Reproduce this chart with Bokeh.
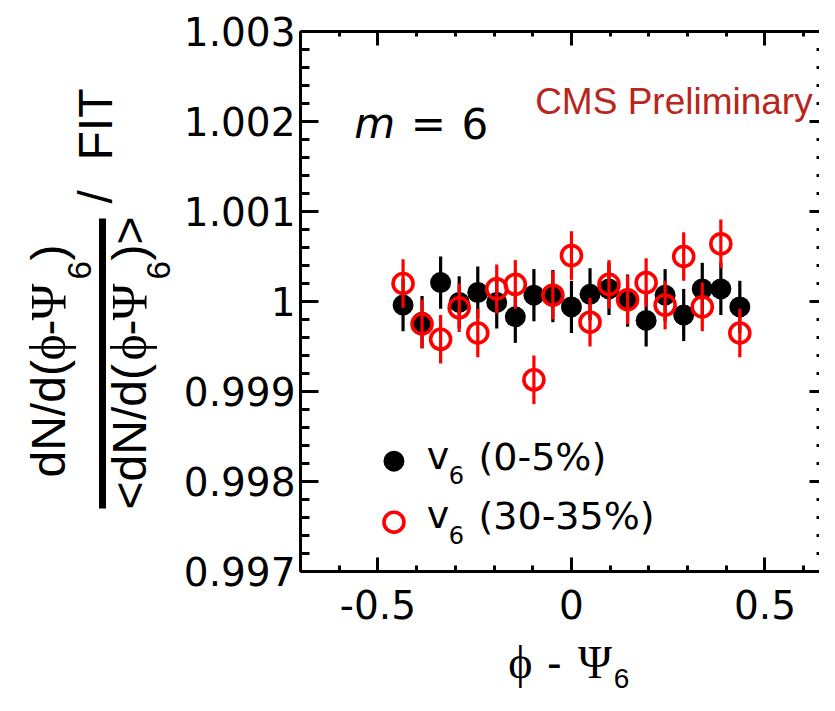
import math
import numpy as np
from bokeh.plotting import figure
from bokeh.layouts import row, column
from bokeh.models import (Range1d, LinearAxis, FixedTicker, CustomJSTickFormatter, Label)
from bokeh.embed import file_html
from bokeh.resources import INLINE

# ---------------- data ----------------
phi_bins = [-0.435, -0.386, -0.338, -0.290, -0.242, -0.193, -0.145, -0.097, -0.048, 0.000,
            0.048, 0.097, 0.145, 0.193, 0.242, 0.290, 0.338, 0.386, 0.435]
ratio_0_5 = [0.99996, 0.99977, 1.00021, 0.99999, 1.00010, 0.99999, 0.99983, 1.00007, 1.00006,
             0.99994, 1.00008, 1.00014, 1.00001, 0.99979, 1.00007, 0.99985, 1.00014, 1.00014,
             0.99994]
err_0_5 = [0.00029] * 19
ratio_30_35 = [1.00020, 0.99975, 0.99958, 0.99993, 0.99965, 1.00014, 1.00019, 0.99913, 1.00007,
               1.00051, 0.99977, 1.00019, 1.00002, 1.00021, 0.99996, 1.00050, 0.99994, 1.00064,
               0.99965]
err_30_35 = [0.00027] * 19
series_labels = ["(0-5%)", "(30-35%)"]
x_major_ticks = [-0.5, 0.0, 0.5]
x_minor_ticks = [-0.7, -0.6, -0.4, -0.3, -0.2, -0.1, 0.1, 0.2, 0.3, 0.4, 0.6]
y_major_ticks = [0.997, 0.998, 0.999, 1.0, 1.001, 1.002, 1.003]

# ---------------- layout (page pixels) ----------------
TOTAL_W, TOTAL_H = 819, 695
LW = 180                    # width of the y-title panel
MW = TOTAL_W - LW           # main figure width
FL = 297                    # frame left (page px)
FT = 31                     # frame top
FH = 540                    # frame height
FW = TOTAL_W - FL           # frame width
MH = 635                    # main figure height
XH = TOTAL_H - MH           # x-title panel height
XPX = 389.3                 # px per x unit
X0 = -0.7
X1 = X0 + FW / XPX
Y0, Y1 = 0.997, 1.003
REF_FH = 548                # frame height in the reference picture
K = 0.38                    # label anchor -> glyph baseline offset (em)

def dx(ix):
    return X0 + (ix - FL) / XPX

def dy(ref_iy):             # reference picture px -> data y
    return Y1 - (ref_iy - 31) / REF_FH * (Y1 - Y0)

SANS, SERIF, DJ = "Liberation Sans", "Liberation Serif", "DejaVu Sans"

p = figure(width=MW, height=MH, x_range=Range1d(X0, X1), y_range=Range1d(Y0, Y1),
           output_backend="svg", toolbar_location=None, title_location=None,
           min_border_left=FL - LW, min_border_right=0, min_border_top=FT,
           min_border_bottom=MH - FT - FH)
p.outline_line_color = None
p.grid.visible = False

fmt = CustomJSTickFormatter(code="return String(Math.round(tick*10000)/10000);")
y_minor = [float(v) for v in np.round(np.arange(0.9970, 1.00301, 0.0002), 4)
           if all(abs(v - m) > 1e-7 for m in y_major_ticks)]
xt = FixedTicker(ticks=x_major_ticks, minor_ticks=x_minor_ticks)
yt = FixedTicker(ticks=y_major_ticks, minor_ticks=y_minor)

def style_axis(ax, tin, min_in, labels=True, line=True, standoff=0):
    ax.major_tick_in = tin
    ax.major_tick_out = 0
    ax.minor_tick_in = min_in
    ax.minor_tick_out = 0
    ax.major_tick_line_width = 3
    ax.minor_tick_line_width = 3
    ax.major_tick_line_color = "black"
    ax.minor_tick_line_color = "black"
    ax.axis_line_width = 3
    ax.axis_line_color = "black" if line else None
    ax.major_label_standoff = standoff
    if labels:
        ax.major_label_text_font = DJ
        ax.major_label_text_font_size = "39px"
        ax.major_label_text_color = "black"
        ax.formatter = fmt
    else:
        ax.major_label_text_font_size = "0px"
        ax.formatter = CustomJSTickFormatter(code="return '';")

xa = p.xaxis[0]
xa.ticker = xt
style_axis(xa, 14, 6, standoff=18)
ya = p.yaxis[0]
ya.ticker = yt
style_axis(ya, 18, 9, standoff=5)

top = LinearAxis(ticker=xt)
style_axis(top, 14, 5, labels=False)
p.add_layout(top, "above")
right = LinearAxis(ticker=yt)
style_axis(right, 10, 3, labels=False, line=False)
p.add_layout(right, "right")

# ---------------- data marks ----------------
lo1 = [v - e for v, e in zip(ratio_0_5, err_0_5)]
hi1 = [v + e for v, e in zip(ratio_0_5, err_0_5)]
lo2 = [v - e for v, e in zip(ratio_30_35, err_30_35)]
hi2 = [v + e for v, e in zip(ratio_30_35, err_30_35)]

p.segment(x0=phi_bins, y0=lo1, x1=phi_bins, y1=hi1, line_color="black", line_width=3.2)
p.scatter(x=phi_bins, y=ratio_0_5, marker="circle", size=21, fill_color="black",
          line_color="black", line_width=0)
p.segment(x0=phi_bins, y0=lo2, x1=phi_bins, y1=hi2, line_color="#ff0000", line_width=3.2)
p.scatter(x=phi_bins, y=ratio_30_35, marker="circle", size=20, fill_color=None,
          line_color="#ff0000", line_width=3.6)

# legend keys
p.scatter(x=[dx(391)], y=[dy(467)], marker="circle", size=21, fill_color="black", line_width=0)
p.scatter(x=[dx(391)], y=[dy(529)], marker="circle", size=20, fill_color=None,
          line_color="#ff0000", line_width=3.6)

def lab(fig, x, y, text, size, font=DJ, style="normal", color="black", angle=0.0):
    fig.add_layout(Label(x=x, y=y, text=text, text_font=font,
                         text_font_size=f"{size}px", text_font_style=style,
                         text_color=color, angle=angle, text_align="left",
                         text_baseline="alphabetic"))

def labm(text, ix, iy, size, **kw):          # inside the main frame; iy = glyph baseline
    lab(p, dx(ix), dy(iy - K * size), text, size, **kw)

# legend texts
labm("v", 424, 476, 38)
labm("6", 446, 490, 24)
labm(series_labels[0], 476, 477, 38)
labm("v", 424, 536, 38)
labm("6", 446, 551, 24)
labm(series_labels[1], 476, 537, 38)

# m = 6
labm("m", 351, 140, 42, style="italic")
labm("=", 408, 140, 42)
labm("6", 459, 140, 42)

# CMS Preliminary
labm("CMS Preliminary", 533, 116, 37, font=SANS, color="#b8261c")

# ---------------- y-title panel ----------------
ly = figure(width=LW, height=TOTAL_H, x_range=Range1d(0, LW), y_range=Range1d(-TOTAL_H, 0),
            output_backend="svg", toolbar_location=None, title_location=None,
            x_axis_location=None, y_axis_location=None, min_border=0)
ly.outline_line_color = None
ly.grid.visible = False

def laby(text, x, y, size, font=SANS):       # x = glyph baseline (rotated text)
    lab(ly, x - K * size, -(y - 4), text, size, font=font, angle=math.pi / 2)

for base, sub, start, first in [(66, 92, 481, "dN/d("), (147, 171, 513, "<dN/d(")]:
    laby(first, base, start, 48)
    laby("ϕ", base, 364, 50, font=SERIF)
    laby("-", base, 339, 48)
    laby("Ψ", base, 324, 50, font=SERIF)
    laby("6", sub, 283, 33)
    laby(")", base, 264, 48)
laby(">", 147, 248, 48)
laby("/", 113, 207, 48)
laby("FIT", 113, 164, 48)
ly.segment(x0=[102], y0=[-218], x1=[102], y1=[-508], line_color="black", line_width=7)

# ---------------- x-title panel (same borders as the main figure) ----------------
lx = figure(width=MW, height=XH, x_range=Range1d(X0, X1), y_range=Range1d(-TOTAL_H, -MH),
            output_backend="svg", toolbar_location=None, title_location=None,
            x_axis_location=None, y_axis_location=None,
            min_border_left=FL - LW, min_border_right=0, min_border_top=0, min_border_bottom=0)
lx.outline_line_color = None
lx.grid.visible = False

def labx(text, ix, y, size, font=SANS):      # y = glyph baseline (page px)
    lab(lx, dx(ix), -(y - K * size), text, size, font=font)

labx("ϕ", 506, 679, 46, font=SERIF)
labx("-", 545, 679, 44)
labx("Ψ", 576, 679, 46, font=SERIF)
labx("6", 612, 689, 28)

layout = row(ly, column(p, lx, spacing=0), spacing=0)
open("out.html", "w").write(file_html(layout, INLINE))
